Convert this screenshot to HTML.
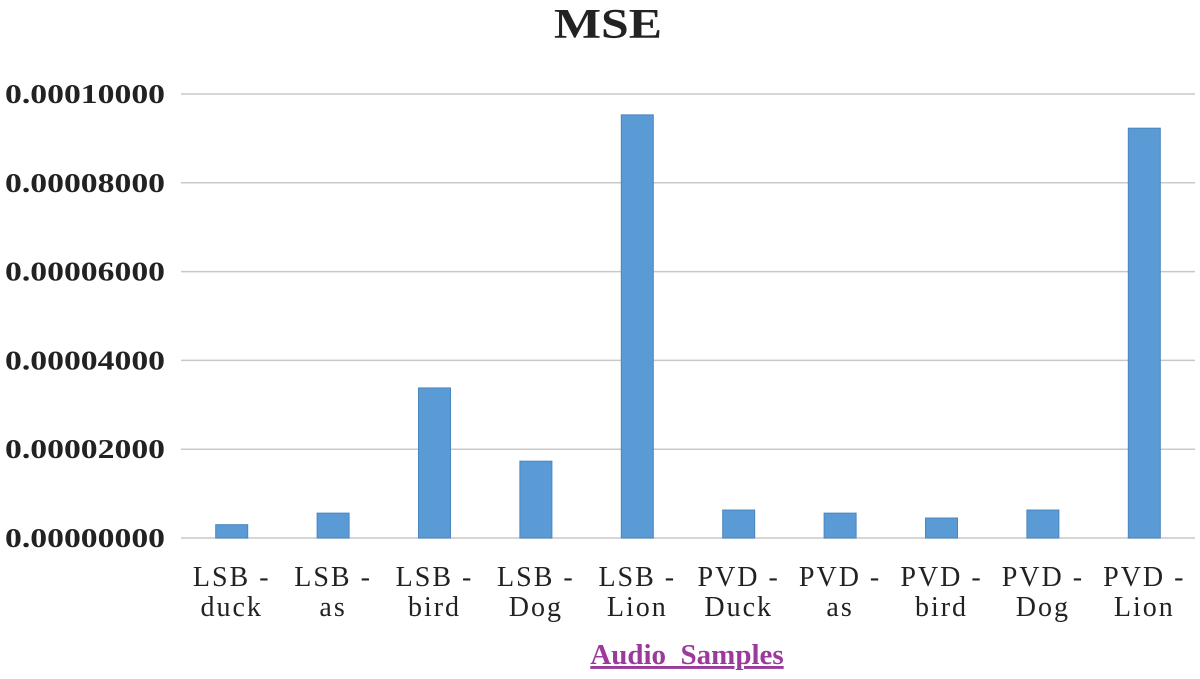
<!DOCTYPE html>
<html><head><meta charset="utf-8"><style>
body{margin:0;background:#fff;}
svg{display:block;font-family:"Liberation Serif",serif;}
</style></head><body>
<svg id="c" width="1200" height="679">
<text x="608" y="38" text-anchor="middle" font-size="42" font-weight="bold" fill="#222" textLength="108" lengthAdjust="spacingAndGlyphs">MSE</text>
<g id="grid"></g><g id="bars"></g><g id="xl"></g>
<text x="687" y="664" text-anchor="middle" font-size="29" font-weight="bold" fill="#9b3a9b" text-decoration="underline">Audio&#160;&#160;Samples</text>
</svg>
<script>
const cats1=["LSB -","LSB -","LSB -","LSB -","LSB -","PVD -","PVD -","PVD -","PVD -","PVD -"];
const cats2=["duck","as","bird","Dog","Lion","Duck","as","bird","Dog","Lion"];
const values=[0.0000030,0.0000056,0.0000338,0.0000173,0.0000953,0.0000063,0.0000056,0.0000045,0.0000063,0.0000923];
const ticks=[0,0.00002,0.00004,0.00006,0.00008,0.0001];
const tickLabels=["0.00000000","0.00002000","0.00004000","0.00006000","0.00008000","0.00010000"];
const NS="http://www.w3.org/2000/svg";
const x0=181,x1=1195,y0=538,y1=94,vmax=0.0001;
const y=v=>y0-(v/vmax)*(y0-y1);
const bw=(x1-x0)/cats1.length;
const xc=i=>x0+bw*(i+0.5);
function mk(t,a,p){const e=document.createElementNS(NS,t);for(const k in a)e.setAttribute(k,a[k]);p.appendChild(e);return e;}
const g=document.getElementById('grid');
ticks.forEach((t,i)=>{
 const l=mk('line',{x1:x0,x2:x1,y1:y(t),y2:y(t),stroke:'#c8c8c8','stroke-width':1.5},g);
 
 
 const tx=mk('text',{x:5,y:y(t)+9,'font-size':27,'font-weight':'bold',fill:'#222',textLength:160,lengthAdjust:'spacingAndGlyphs'},g);
 tx.textContent=tickLabels[i];
 
 
});
const b=document.getElementById('bars'),xl=document.getElementById('xl');
values.forEach((v,i)=>{
 const r=mk('rect',{x:xc(i)-16,y:y(v),width:32,height:y0-y(v),fill:'#5b9bd5',stroke:'#4a86c0','stroke-width':1},b);
 
 
 const t=mk('text',{x:xc(i),y:586,'text-anchor':'middle','font-size':28,fill:'#222','letter-spacing':2},xl);
 t.textContent=cats1[i];
 
 
 const t2=mk('text',{x:xc(i),y:616,'text-anchor':'middle','font-size':28,fill:'#222','letter-spacing':2},xl);
 t2.textContent=cats2[i];
 
 
});
</script>
</body></html>
